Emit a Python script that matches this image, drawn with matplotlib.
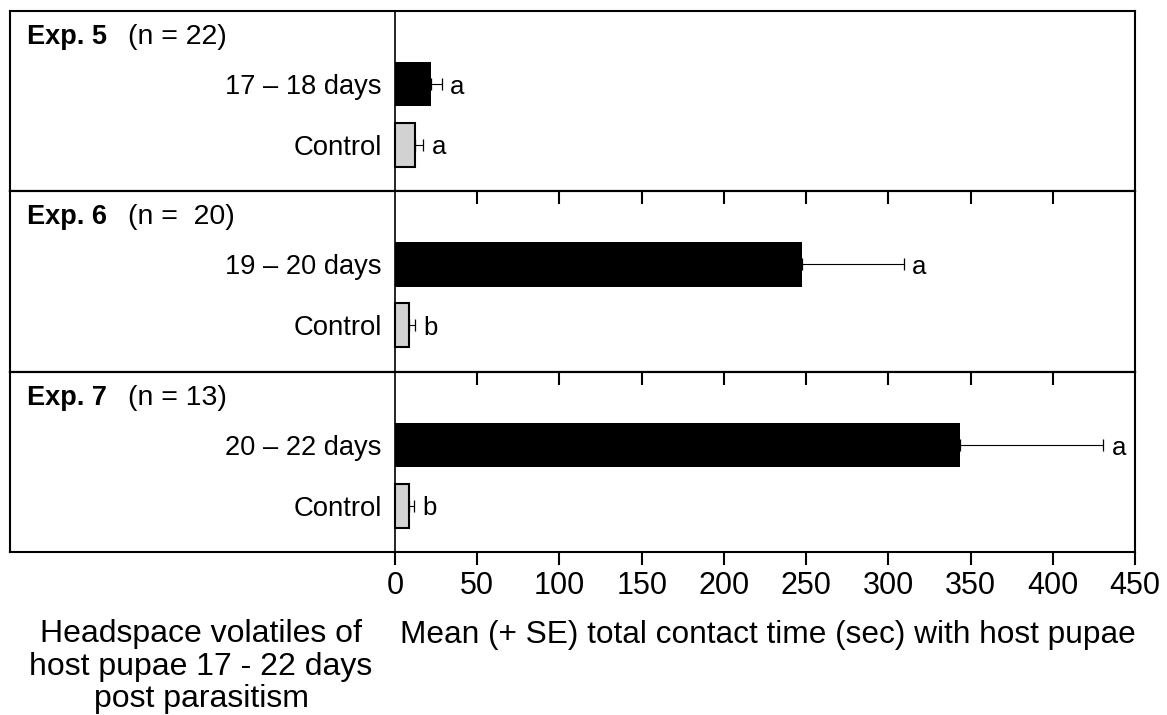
import matplotlib.pyplot as plt

# Datos
experimentos = ['Exp. 5', 'Exp. 6', 'Exp. 7']
tamanos = ['(n = 22)', '(n =  20)', '(n = 13)']
tratamientos = ['17 – 18 days', '19 – 20 days', '20 – 22 days']
media_trat = [21.9, 247.4, 343.7]
se_trat = [6.7, 62.0, 87.0]
media_control = [12.0, 8.7, 8.5]
se_control = [5.2, 3.5, 3.0]
letras_trat = ['a', 'a', 'a']
letras_control = ['a', 'b', 'b']
ticks_x = [0, 50, 100, 150, 200, 250, 300, 350, 400, 450]

plt.rcParams['font.family'] = ['Liberation Sans', 'DejaVu Sans']

W, H = 1167, 715
fig = plt.figure(figsize=(W / 100, H / 100), dpi=100)

# bordes de los paneles en pixeles
bordes = [11, 191, 372, 552]
izq, der = 10, 1135
cero = 395
escala = (der - cero) / 450.0
x_min = -(cero - izq) / escala

y_trat, y_ctrl, alto = 0.406, 0.742, 0.244

for i in range(3):
    ax = fig.add_axes([izq / W, 1 - bordes[i + 1] / H, (der - izq) / W,
                       (bordes[i + 1] - bordes[i]) / H])
    ax.set_xlim(x_min, 450)
    ax.set_ylim(1, 0)
    ax.set_yticks([])
    for s in ax.spines.values():
        s.set_linewidth(1.5)
    ax.axvline(0, color='black', lw=1.2, zorder=1)

    ax.barh(y_trat, media_trat[i], height=alto, color='black', zorder=2)
    ax.barh(y_ctrl, media_control[i], height=alto, color='#d2d2d2',
            edgecolor='black', linewidth=1.5, zorder=2)
    ax.errorbar([media_trat[i], media_control[i]], [y_trat, y_ctrl],
                xerr=[[0, 0], [se_trat[i], se_control[i]]], fmt='none',
                ecolor='black', elinewidth=0.8, capsize=4.3, capthick=0.9, zorder=3)

    # letras de significancia
    ax.annotate(letras_trat[i], xy=(media_trat[i] + se_trat[i], y_trat), xytext=(6, 0),
                textcoords='offset points', ha='left', va='center_baseline', fontsize=18.5)
    ax.annotate(letras_control[i], xy=(media_control[i] + se_control[i], y_ctrl),
                xytext=(6, 0), textcoords='offset points', ha='left',
                va='center_baseline', fontsize=18.5)

    # nombres de las barras
    ax.annotate(tratamientos[i], xy=(0, y_trat), xytext=(-9.5, 0), textcoords='offset points',
                ha='right', va='center_baseline', fontsize=19.6)
    ax.annotate('Control', xy=(0, y_ctrl), xytext=(-9.5, 0), textcoords='offset points',
                ha='right', va='center_baseline', fontsize=19.8)

    # titulo del experimento
    ax.text((27 - izq) / (der - izq), 1 - 33 / 180, experimentos[i], transform=ax.transAxes,
            fontsize=19.5, fontweight='bold', va='baseline', ha='left')
    ax.text((128 - izq) / (der - izq), 1 - 33 / 180, tamanos[i], transform=ax.transAxes,
            fontsize=20.5, va='baseline', ha='left')

    if i > 0:
        sec = ax.secondary_xaxis('top')
        sec.set_ticks(ticks_x[1:-1])
        sec.tick_params(direction='in', length=9, width=1.5, labeltop=False)
        sec.spines['top'].set_linewidth(1.5)

    if i < 2:
        ax.set_xticks([])
    else:
        ax.set_xticks(ticks_x, labels=[str(t) for t in ticks_x], fontsize=22)
        ax.tick_params(axis='x', direction='out', length=9, width=1.5, pad=5)

fig.text(768 / W, 1 - 643 / H, 'Mean (+ SE) total contact time (sec) with host pupae',
         ha='center', va='baseline', fontsize=22.8)
fig.text(201 / W, 1 - 707 / H,
         'Headspace volatiles of\nhost pupae 17 - 22 days\npost parasitism',
         ha='center', va='baseline', multialignment='center', fontsize=23, linespacing=1.1)

fig.savefig('out.png', dpi=100)
